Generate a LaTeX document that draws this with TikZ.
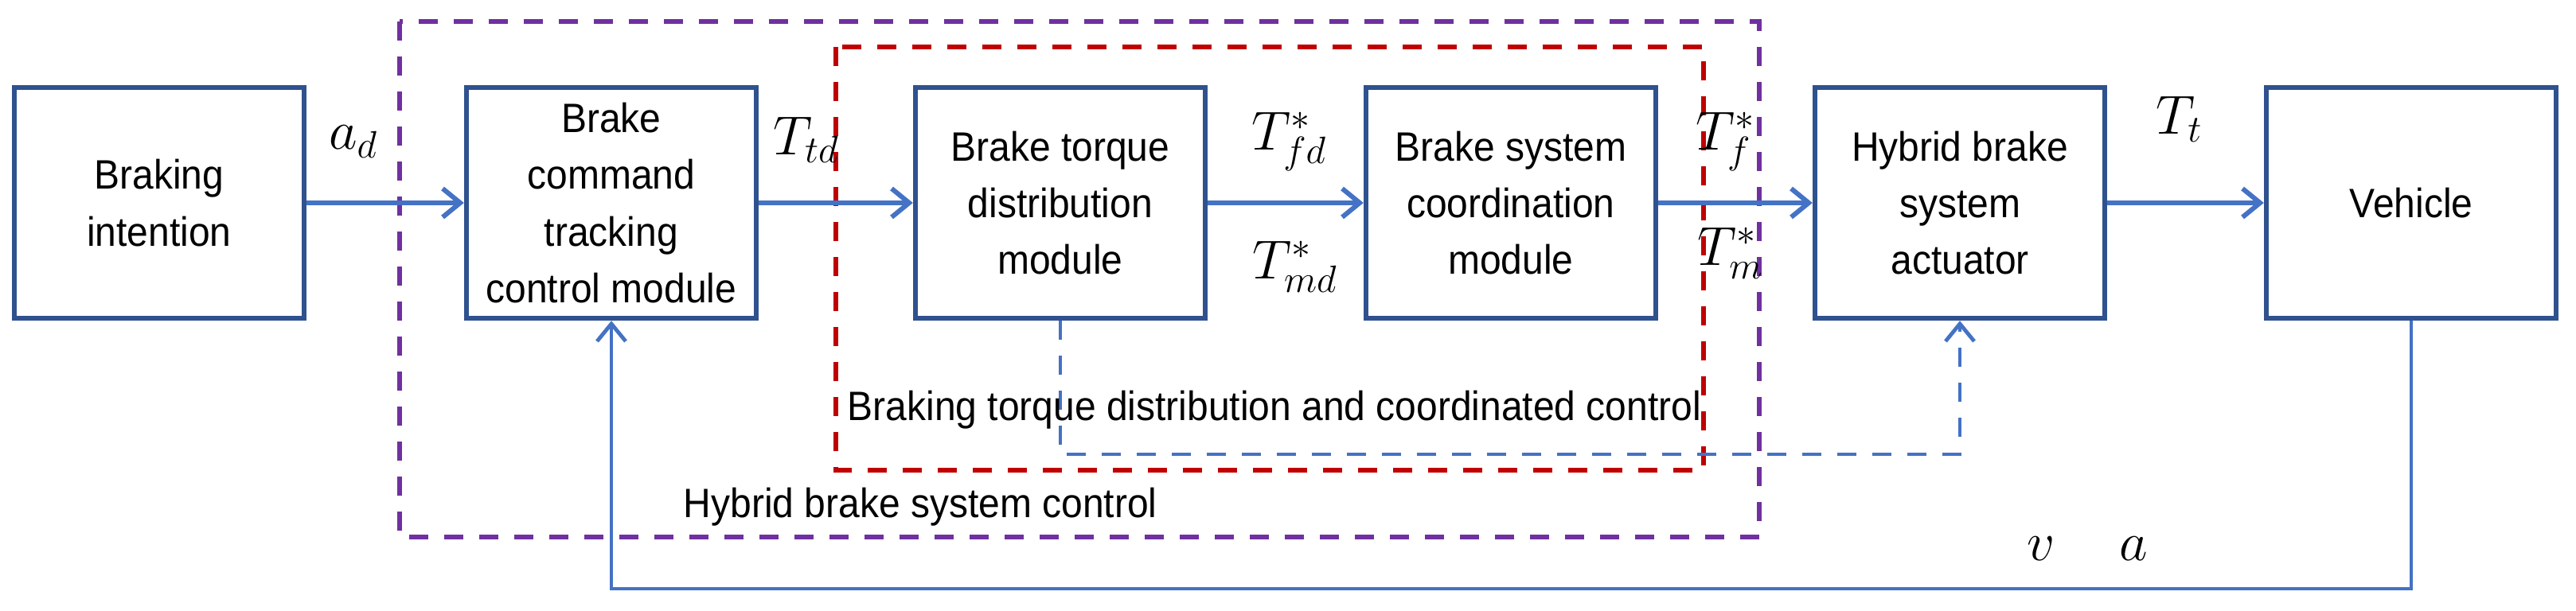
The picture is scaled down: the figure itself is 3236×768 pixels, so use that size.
\documentclass[tikz,border=0pt]{standalone}
\usepackage[no-math]{fontspec}
\setmainfont{Liberation Sans}[FakeStretch=0.93]
\usetikzlibrary{arrows.meta}
\definecolor{boxblue}{RGB}{47,82,143}
\definecolor{lineblue}{RGB}{68,114,196}
\definecolor{purp}{RGB}{112,48,160}
\definecolor{darkred}{RGB}{192,0,0}
\begin{document}
\begin{tikzpicture}[x=0.25pt,y=-0.25pt,
  blk/.style={draw=boxblue, line width=1.6pt, minimum width=91pt, minimum height=72.5pt,
    inner sep=0pt, align=center, font=\fontsize{12.9}{17.8}\selectfont},
  sig/.style={draw=lineblue, line width=1.5pt, -{Straight Barb[length=5.5pt,width=9pt]}},
  fb/.style={draw=lineblue, line width=1.2pt, -{Straight Barb[length=5.5pt,width=9pt]}},
  dfb/.style={draw=lineblue, line width=1.2pt, dash pattern=on 6pt off 5pt, -{Straight Barb[length=5.5pt,width=9pt]}},
  region/.style={line width=1.5pt, dash pattern=on 6pt off 5pt},
  lab/.style={font=\fontsize{18.5}{20}\selectfont, inner sep=0pt},
  txt/.style={font=\fontsize{12.9}{17.5}\selectfont, inner sep=0pt, anchor=west}]
\useasboundingbox (0,0) rectangle (3236,768);
\fill[white] (0,0) rectangle (3236,768);

% regions
\draw[region, draw=purp] (502,27) rectangle (2210,675);
\draw[region, draw=darkred] (1050,59) rectangle (2140,591);

% blocks
\node[blk] (b1) at (200,255) {Braking\\intention};
\node[blk] (b2) at (768,255) {Brake\\command\\tracking\\control module};
\node[blk] (b3) at (1332,255) {Brake torque\\distribution\\module};
\node[blk] (b4) at (1898,255) {Brake system\\coordination\\module};
\node[blk] (b5) at (2462,255) {Hybrid brake\\system\\actuator};
\node[blk] (b6) at (3029,255) {Vehicle};

% signal arrows
\draw[sig] (b1) -- (b2);
\draw[sig] (b2) -- (b3);
\draw[sig] (b3) -- (b4);
\draw[sig] (b4) -- (b5);
\draw[sig] (b5) -- (b6);

% feedback
\draw[fb] (b6.south) -- (b6.south |- 0,740) -| (b2.south);
\draw[dfb] (b3.south) -- (b3.south |- 0,571) -| (b5.south);

% labels
\node[lab] (ad) at (444,178) {$a_d$};
\node[lab] (ttd) at (1013,176) {$T_{td}$};
\node[lab] (tfd) at (1620,178) {$T^*_{fd}$};
\node[lab] (tmd) at (1627,335) {$T^*_{md}$};
\node[lab] (tf) at (2168,178) {$T^*_{f}$};
\node[lab] (tm) at (2174,318) {$T^*_{m}$};
\node[lab] (tt) at (2738,150) {$T_{t}$};
\node[lab] (v) at (2564,690) {$v$};
\node[lab] (a) at (2680,690) {$a$};

\node[txt] (l1) at (1064,515) {Braking torque distribution and coordinated control};
\node[txt] (l2) at (858,637) {Hybrid brake system control};
\end{tikzpicture}
\end{document}
